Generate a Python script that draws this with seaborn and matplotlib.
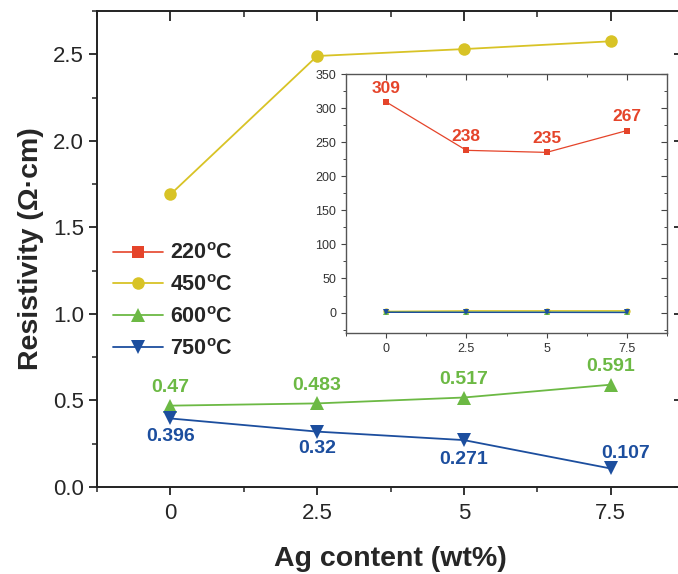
import numpy as np
import pandas as pd
import seaborn as sns
import matplotlib.pyplot as plt
from matplotlib.ticker import MultipleLocator

# datos
ag = [0, 2.5, 5, 7.5]
r220 = [309, 238, 235, 267]
r450 = [1.69, 2.49, 2.53, 2.575]
r600 = [0.47, 0.483, 0.517, 0.591]
r750 = [0.396, 0.32, 0.271, 0.107]

etiquetas_x = ["0", "2.5", "5", "7.5"]
etiquetas_600 = ["0.47", "0.483", "0.517", "0.591"]
etiquetas_750 = ["0.396", "0.32", "0.271", "0.107"]
etiquetas_220 = ["309", "238", "235", "267"]

colores = {"220": "#E5442A", "450": "#D8C326", "600": "#6CB944", "750": "#1C4E9E"}

sns.set_style("ticks")
plt.rcParams["font.family"] = ["Liberation Sans", "DejaVu Sans"]
plt.rcParams["mathtext.fontset"] = "custom"
plt.rcParams["mathtext.rm"] = "Liberation Sans"
plt.rcParams["mathtext.bf"] = "Liberation Sans:bold"

df = pd.DataFrame({"ag": ag, "r220": r220, "r450": r450, "r600": r600, "r750": r750})


def ticks_espejo(eje, largo_may, largo_men, ancho, color):
    # ticks hacia dentro en los lados superior y derecho (estilo Origin)
    arriba = eje.secondary_xaxis("top")
    arriba.set_xticks(eje.get_xticks())
    arriba.xaxis.set_minor_locator(eje.xaxis.get_minor_locator())
    arriba.tick_params(which="major", direction="in", length=largo_may, width=ancho, color=color,
                       labeltop=False)
    arriba.tick_params(which="minor", direction="in", length=largo_men, width=ancho * 0.85, color=color)
    arriba.spines["top"].set_visible(False)
    derecha = eje.secondary_yaxis("right")
    derecha.yaxis.set_major_locator(eje.yaxis.get_major_locator())
    derecha.yaxis.set_minor_locator(eje.yaxis.get_minor_locator())
    derecha.tick_params(which="major", direction="in", length=largo_may, width=ancho, color=color,
                        labelright=False)
    derecha.tick_params(which="minor", direction="in", length=largo_men, width=ancho * 0.85, color=color)
    derecha.spines["right"].set_visible(False)


fig = plt.figure(figsize=(6.78, 5.74), dpi=100)
W, H = 678, 574
ax = fig.add_axes([97 / W, 1 - 487 / H, (684 - 97) / W, (487 - 11) / H])

grados = r"$^{\mathbf{o}}$C"
# la serie de 220 queda fuera de rango en el eje principal, aparece en la leyenda
sns.lineplot(x="ag", y="r220", data=df, ax=ax, color=colores["220"], marker="s", markersize=8.5,
             markeredgewidth=0, linewidth=1.2, label="220" + grados)
sns.lineplot(x="ag", y="r450", data=df, ax=ax, color=colores["450"], marker="o", markersize=9,
             markeredgewidth=0, linewidth=1.3, label="450" + grados)
sns.lineplot(x="ag", y="r600", data=df, ax=ax, color=colores["600"], marker="^", markersize=10,
             markeredgewidth=0, linewidth=1.3, label="600" + grados)
sns.lineplot(x="ag", y="r750", data=df, ax=ax, color=colores["750"], marker="v", markersize=10,
             markeredgewidth=0, linewidth=1.3, label="750" + grados)

for x, y, t in zip(ag, r600, etiquetas_600):
    ax.annotate(t, (x, y), xytext=(0, 13), textcoords="offset points", ha="center", va="center",
                fontsize=14, fontweight="bold", color=colores["600"])
desp_750 = [(0, -13), (0, -12), (0, -14), (11, 11)]
for (x, y, t), d in zip(zip(ag, r750, etiquetas_750), desp_750):
    ax.annotate(t, (x, y), xytext=d, textcoords="offset points", ha="center", va="center",
                fontsize=14, fontweight="bold", color=colores["750"])

ax.set_xlim(-1.25, 8.75)
ax.set_ylim(0, 2.75)
ax.set_xticks(ag)
ax.set_xticklabels(etiquetas_x)
ax.xaxis.set_minor_locator(MultipleLocator(1.25))
ax.yaxis.set_major_locator(MultipleLocator(0.5))
ax.yaxis.set_minor_locator(MultipleLocator(0.25))
ax.tick_params(axis="both", which="major", labelsize=16, length=6, width=1.3, direction="out",
               color="#222222")
ax.tick_params(axis="x", which="major", pad=5.5)
ax.tick_params(axis="both", which="minor", length=3.5, width=1.1, direction="out", color="#222222")
for s in ax.spines.values():
    s.set_linewidth(1.4)
    s.set_color("#222222")
ticks_espejo(ax, 7, 4, 1.3, "#222222")
ax.set_xlabel("Ag content (wt%)", fontsize=20.5, fontweight="bold", labelpad=16)
ax.set_ylabel("Resistivity (Ω·cm)", fontsize=20.5, fontweight="bold", labelpad=6)

ax.legend(loc="upper left", bbox_to_anchor=(0.0, 0.546), frameon=False, handlelength=2.3,
          labelspacing=0.5, handletextpad=0.33, borderaxespad=0.35, borderpad=0.4,
          prop={"weight": "bold", "size": 15.5})

# grafico insertado
axi = fig.add_axes([346 / W, 1 - 333 / H, (667 - 346) / W, (333 - 74) / H])
sns.lineplot(x="ag", y="r220", data=df, ax=axi, color=colores["220"], marker="s", markersize=4.5,
             markeredgewidth=0, linewidth=0.9)
sns.lineplot(x="ag", y="r450", data=df, ax=axi, color=colores["450"], marker="o", markersize=4.5,
             markeredgewidth=0, linewidth=1.0)
sns.lineplot(x="ag", y="r600", data=df, ax=axi, color=colores["600"], marker="^", markersize=4.5,
             markeredgewidth=0, linewidth=1.0)
sns.lineplot(x="ag", y="r750", data=df, ax=axi, color=colores["750"], marker="v", markersize=5,
             markeredgewidth=0, linewidth=1.0)
for x, y, t in zip(ag, r220, etiquetas_220):
    axi.annotate(t, (x, y), xytext=(0, 10), textcoords="offset points", ha="center", va="center",
                 fontsize=12.5, fontweight="bold", color=colores["220"])
axi.set_xlim(-1.25, 8.75)
axi.set_ylim(-30, 350)
axi.set_xticks(ag)
axi.set_xticklabels(etiquetas_x)
axi.xaxis.set_minor_locator(MultipleLocator(1.25))
axi.yaxis.set_major_locator(MultipleLocator(50))
axi.yaxis.set_minor_locator(MultipleLocator(25))
axi.tick_params(axis="both", which="major", labelsize=9, length=3.5, width=0.8, color="#444444",
                labelcolor="#333333", direction="out")
axi.tick_params(axis="both", which="minor", length=2, width=0.7, color="#444444", direction="out")
for s in axi.spines.values():
    s.set_linewidth(1.0)
    s.set_color("#555555")
ticks_espejo(axi, 4, 2.2, 0.8, "#444444")
axi.set_xlabel("")
axi.set_ylabel("")

fig.savefig("out.png", dpi=100)
